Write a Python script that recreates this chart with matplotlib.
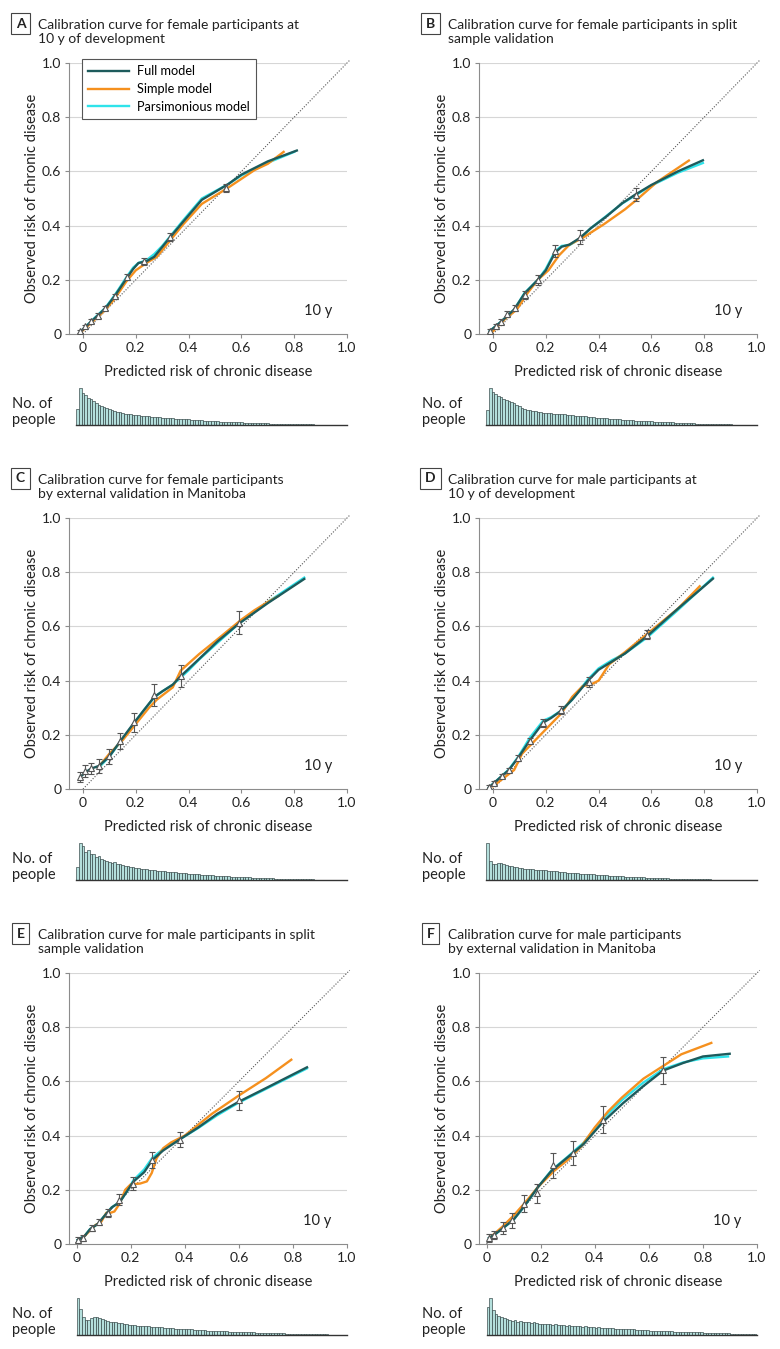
import matplotlib
matplotlib.use('Agg')
import matplotlib.pyplot as plt
import numpy as np

plt.rcParams['font.family'] = ['Lato', 'DejaVu Sans']

# ---- panel titles
titles = {
    'A': 'Calibration curve for female participants at\n10 y of development',
    'B': 'Calibration curve for female participants in split\nsample validation',
    'C': 'Calibration curve for female participants\nby external validation in Manitoba',
    'D': 'Calibration curve for male participants at\n10 y of development',
    'E': 'Calibration curve for male participants in split\nsample validation',
    'F': 'Calibration curve for male participants\nby external validation in Manitoba',
}

tick_values = [0, 0.2, 0.4, 0.6, 0.8, 1.0]
tick_labels = ['0', '0.2', '0.4', '0.6', '0.8', '1.0']

# ---- A: female, development
A_tri_x = [-0.01, 0.009, 0.03, 0.056, 0.085, 0.122, 0.167, 0.232, 0.328, 0.543]
A_tri_y = [0.01, 0.028, 0.047, 0.068, 0.096, 0.139, 0.21, 0.268, 0.357, 0.539]
A_tri_err = [0.006, 0.007, 0.007, 0.008, 0.009, 0.01, 0.012, 0.013, 0.015, 0.016]
A_full_x = [-0.01, 0.03, 0.085, 0.12, 0.165, 0.19, 0.21, 0.24, 0.27, 0.33, 0.38, 0.45, 0.55, 0.60, 0.70, 0.81]
A_full_y = [0.008, 0.045, 0.095, 0.14, 0.205, 0.24, 0.262, 0.268, 0.285, 0.357, 0.415, 0.495, 0.553, 0.588, 0.637, 0.677]
A_simple_x = [-0.01, 0.03, 0.085, 0.12, 0.165, 0.20, 0.24, 0.28, 0.33, 0.38, 0.45, 0.55, 0.65, 0.70, 0.76]
A_simple_y = [0.005, 0.04, 0.09, 0.13, 0.195, 0.235, 0.262, 0.285, 0.345, 0.405, 0.48, 0.54, 0.605, 0.628, 0.672]
A_pars_x = [-0.01, 0.03, 0.085, 0.12, 0.165, 0.19, 0.21, 0.24, 0.27, 0.30, 0.33, 0.38, 0.45, 0.55, 0.60, 0.70, 0.80]
A_pars_y = [0.008, 0.046, 0.097, 0.143, 0.21, 0.245, 0.262, 0.272, 0.295, 0.325, 0.36, 0.42, 0.5, 0.553, 0.585, 0.632, 0.672]
A_hist = [43, 100, 86, 81, 74, 70, 65, 60, 55, 51, 48, 45, 42, 40, 38, 36, 34, 33, 31, 30, 29,
          28, 27, 26, 25, 24, 23.5, 23, 22, 21.5, 21, 20.5, 20, 19.5, 19, 18.5, 18, 17.5, 17, 16.5, 16,
          15.5, 15, 14.5, 14, 13.5, 13, 12.5, 12, 11.5, 11, 10.5, 10, 9.5, 9, 8.8, 8.5, 8.2, 8, 7.8, 7.5,
          7.2, 7, 6.7, 6.4, 6.1, 5.8, 5.5, 5.2, 5, 4.7, 4.4, 4.2, 4, 3.8, 3.6, 3.4, 3.2, 3, 2.8, 2.6,
          2.4, 2.2, 2, 1.9, 1.8, 1.7, 1.6, 1.5, 1.4, 1.3, 1.2, 1.1, 1, 0.9, 0.8, 0.7, 0.6, 0.5, 0.5, 0.4, 0.4]

# ---- B: female, split sample
B_tri_x = [-0.013, 0.01, 0.029, 0.053, 0.082, 0.12, 0.17, 0.234, 0.331, 0.54]
B_tri_y = [0.012, 0.028, 0.046, 0.075, 0.096, 0.145, 0.2, 0.305, 0.358, 0.514]
B_tri_err = [0.008, 0.008, 0.01, 0.01, 0.012, 0.015, 0.018, 0.022, 0.025, 0.025]
B_full_x = [-0.013, 0.03, 0.08, 0.12, 0.17, 0.20, 0.235, 0.26, 0.29, 0.33, 0.37, 0.43, 0.49, 0.54, 0.60, 0.70, 0.795]
B_full_y = [0.01, 0.045, 0.09, 0.15, 0.2, 0.235, 0.3, 0.322, 0.33, 0.355, 0.39, 0.434, 0.483, 0.515, 0.55, 0.6, 0.641]
B_simple_x = [0.0, 0.05, 0.09, 0.13, 0.17, 0.21, 0.25, 0.29, 0.34, 0.42, 0.50, 0.55, 0.62, 0.742]
B_simple_y = [0.01, 0.06, 0.09, 0.15, 0.2, 0.235, 0.29, 0.33, 0.355, 0.405, 0.46, 0.5, 0.56, 0.64]
B_pars_x = [-0.013, 0.03, 0.08, 0.12, 0.17, 0.20, 0.235, 0.26, 0.29, 0.33, 0.37, 0.43, 0.49, 0.54, 0.60, 0.70, 0.795]
B_pars_y = [0.01, 0.045, 0.09, 0.152, 0.2, 0.24, 0.305, 0.325, 0.328, 0.352, 0.39, 0.436, 0.482, 0.512, 0.548, 0.595, 0.631]
B_hist = [41, 100, 90, 83, 79, 75, 71, 68, 65, 62, 59, 54, 50, 46, 43, 41, 40, 39, 37, 35, 34,
          33.5, 33, 32.5, 32, 31, 30.5, 30, 29, 28.5, 28, 27, 26, 25.5, 25, 24, 23.5, 23, 22, 21.5, 21,
          20, 19.5, 19, 18.5, 18, 17.5, 17, 16, 15.5, 15, 14.5, 14, 13.5, 13, 12.5, 12, 11.5, 11, 10.5, 10.5,
          10, 9.7, 9.4, 9, 8.7, 8.4, 8, 7.7, 7.4, 7, 6.7, 6.4, 6, 5.7, 5.4, 5, 4.7, 4.4, 4, 3.8,
          3.6, 3.3, 3, 2.8, 2.6, 2.4, 2.2, 2, 1.8, 1.6, 1.5, 1.4, 1.2, 1.1, 1, 0.9, 0.8, 0.7, 0.6, 0.5, 0.4]

# ---- C: female, Manitoba
C_tri_x = [-0.01, 0.009, 0.03, 0.059, 0.097, 0.139, 0.192, 0.268, 0.371, 0.591]
C_tri_y = [0.043, 0.065, 0.077, 0.084, 0.12, 0.176, 0.247, 0.346, 0.416, 0.613]
C_tri_err = [0.018, 0.022, 0.02, 0.025, 0.028, 0.03, 0.035, 0.04, 0.04, 0.042]
C_full_x = [-0.01, 0.01, 0.03, 0.06, 0.10, 0.14, 0.19, 0.23, 0.27, 0.30, 0.34, 0.37, 0.44, 0.51, 0.59, 0.70, 0.838]
C_full_y = [0.045, 0.062, 0.075, 0.085, 0.12, 0.175, 0.24, 0.29, 0.34, 0.36, 0.385, 0.416, 0.48, 0.545, 0.61, 0.686, 0.775]
C_simple_x = [0.066, 0.10, 0.15, 0.20, 0.25, 0.28, 0.34, 0.37, 0.44, 0.50, 0.55, 0.60, 0.65, 0.70, 0.74]
C_simple_y = [0.09, 0.13, 0.18, 0.24, 0.30, 0.33, 0.375, 0.437, 0.498, 0.545, 0.585, 0.625, 0.66, 0.69, 0.712]
C_pars_x = [0.066, 0.10, 0.14, 0.19, 0.23, 0.27, 0.30, 0.34, 0.40, 0.44, 0.51, 0.59, 0.70, 0.838]
C_pars_y = [0.085, 0.12, 0.172, 0.238, 0.29, 0.338, 0.36, 0.385, 0.438, 0.478, 0.54, 0.61, 0.69, 0.78]
C_hist = [36, 100, 93, 76, 81, 69, 71, 62, 64, 57, 54, 52, 50, 47, 48, 44, 42, 41, 39, 38, 36,
          34, 33, 32, 31, 30, 29, 28, 27, 26, 25, 24, 23.5, 23, 22, 21.5, 21, 20.5, 20, 19, 18.5,
          18, 17.5, 17, 16, 15.5, 15, 14.5, 14, 13.5, 13, 12.5, 12, 11.5, 11, 10.5, 10, 9.5, 9, 8.8, 8.5,
          8.2, 8, 7.5, 7, 6.8, 6.5, 6, 5.8, 5.5, 5.2, 5, 4.8, 4.5, 4.2, 4, 3.8, 3.5, 3.3, 3, 2.8,
          2.6, 2.4, 2.2, 2, 1.9, 1.8, 1.6, 1.5, 1.4, 1.2, 1.1, 1, 0.9, 0.8, 0.7, 0.6, 0.5, 0.5, 0.4, 0.4, 0.3]

# ---- D: male, development
D_tri_x = [-0.016, 0.003, 0.033, 0.061, 0.095, 0.139, 0.19, 0.259, 0.362, 0.585]
D_tri_y = [0.007, 0.022, 0.049, 0.071, 0.114, 0.178, 0.244, 0.29, 0.394, 0.57]
D_tri_err = [0.006, 0.008, 0.008, 0.008, 0.01, 0.012, 0.014, 0.015, 0.018, 0.018]
D_full_x = [-0.016, 0.03, 0.06, 0.095, 0.14, 0.19, 0.22, 0.26, 0.30, 0.36, 0.40, 0.45, 0.50, 0.585, 0.70, 0.833]
D_full_y = [0.005, 0.045, 0.07, 0.115, 0.18, 0.245, 0.262, 0.29, 0.33, 0.40, 0.44, 0.47, 0.50, 0.565, 0.665, 0.776]
D_simple_x = [0.0, 0.04, 0.08, 0.11, 0.14, 0.19, 0.22, 0.26, 0.30, 0.34, 0.37, 0.40, 0.44, 0.50, 0.60, 0.70, 0.783]
D_simple_y = [0.01, 0.04, 0.07, 0.13, 0.16, 0.21, 0.24, 0.28, 0.34, 0.38, 0.385, 0.40, 0.46, 0.505, 0.585, 0.665, 0.748]
D_pars_x = [-0.016, 0.03, 0.06, 0.095, 0.14, 0.19, 0.22, 0.26, 0.30, 0.36, 0.40, 0.45, 0.50, 0.585, 0.70, 0.833]
D_pars_y = [0.005, 0.045, 0.072, 0.118, 0.19, 0.252, 0.265, 0.29, 0.33, 0.405, 0.445, 0.475, 0.50, 0.56, 0.66, 0.78]
D_hist = [100, 51, 42, 44, 46, 45, 44, 41, 39, 37, 35, 34, 33, 32, 31, 30, 29.5, 29, 28, 27.5, 27,
          26.5, 26, 25, 24, 23.5, 23, 22, 21.5, 21, 20, 19.5, 19, 18.5, 18, 17.5, 17, 16.5, 16, 15.5, 15,
          14.5, 14, 13.5, 13, 12.5, 12, 11.5, 11, 10.5, 10, 9.5, 9, 8.5, 8.2, 8, 7.7, 7.4, 7, 6.8, 6.5,
          6.2, 6, 5.7, 5.4, 5.1, 4.8, 4.5, 4.2, 4, 3.8, 3.5, 3.3, 3, 2.8, 2.6, 2.4, 2.2, 2, 1.9, 1.8,
          1.7, 1.6, 1.5, 1.4, 1.3, 1.2, 1.1, 1, 0.9, 0.8, 0.7, 0.6, 0.6, 0.5, 0.5, 0.4, 0.4, 0.3, 0.3, 0.3, 0.2]

# ---- E: male, split sample
E_tri_x = [0.004, 0.025, 0.056, 0.084, 0.115, 0.157, 0.207, 0.279, 0.383, 0.60]
E_tri_y = [0.016, 0.022, 0.059, 0.081, 0.114, 0.164, 0.223, 0.311, 0.385, 0.53]
E_tri_err = [0.008, 0.01, 0.012, 0.012, 0.015, 0.02, 0.025, 0.03, 0.028, 0.035]
E_full_x = [0.004, 0.03, 0.05, 0.08, 0.10, 0.13, 0.16, 0.19, 0.21, 0.25, 0.28, 0.32, 0.38, 0.45, 0.52, 0.60, 0.70, 0.852]
E_full_y = [0.015, 0.03, 0.055, 0.075, 0.10, 0.135, 0.155, 0.2, 0.23, 0.265, 0.31, 0.345, 0.385, 0.43, 0.48, 0.525, 0.575, 0.652]
E_simple_x = [0.02, 0.05, 0.07, 0.09, 0.11, 0.125, 0.14, 0.16, 0.18, 0.20, 0.235, 0.26, 0.278, 0.296, 0.321,
              0.35, 0.40, 0.50, 0.60, 0.70, 0.794]
E_simple_y = [0.02, 0.05, 0.07, 0.08, 0.115, 0.115, 0.12, 0.15, 0.2, 0.22, 0.223, 0.231, 0.262, 0.317, 0.354,
              0.375, 0.40, 0.48, 0.548, 0.612, 0.68]
E_pars_x = [0.004, 0.03, 0.05, 0.08, 0.10, 0.13, 0.16, 0.19, 0.21, 0.25, 0.28, 0.32, 0.38, 0.45, 0.52, 0.60, 0.70, 0.852]
E_pars_y = [0.015, 0.03, 0.055, 0.075, 0.10, 0.135, 0.155, 0.2, 0.235, 0.275, 0.318, 0.35, 0.385, 0.428, 0.475, 0.522, 0.572, 0.648]
E_hist = [100, 70, 48, 40, 41, 46, 50, 48, 45, 42, 40, 38, 36, 35, 34, 33, 32, 31, 30, 28, 27,
          26, 25.5, 25, 24, 23.5, 23, 22.5, 22, 21.5, 21, 21, 20, 19.5, 19, 18, 17.5, 17, 16.5, 16, 15.5,
          15, 15, 14.5, 14, 13.5, 13, 12.5, 12, 11.5, 11, 11, 10.5, 10, 10, 9.5, 9, 8.8, 8.5, 8.2, 8,
          7.8, 7.5, 7.2, 7, 6.8, 6.5, 6.2, 6, 5.8, 5.5, 5.2, 5, 4.8, 4.5, 4.3, 4.1, 3.9, 3.7, 3.5, 3.3,
          3.1, 2.9, 2.7, 2.5, 2.3, 2.1, 2, 1.8, 1.7, 1.6, 1.5, 1.4, 1.3, 1.2, 1.1, 1, 0.9, 0.8, 0.7, 0.6]

# ---- F: male, Manitoba
F_tri_x = [0.009, 0.028, 0.059, 0.094, 0.14, 0.188, 0.246, 0.318, 0.429, 0.653]
F_tri_y = [0.022, 0.034, 0.059, 0.087, 0.149, 0.188, 0.29, 0.336, 0.459, 0.641]
F_tri_err = [0.015, 0.015, 0.022, 0.028, 0.03, 0.035, 0.045, 0.045, 0.05, 0.05]
F_full_x = [0.009, 0.03, 0.06, 0.10, 0.14, 0.19, 0.24, 0.30, 0.36, 0.43, 0.505, 0.579, 0.653, 0.727, 0.80, 0.899]
F_full_y = [0.022, 0.035, 0.058, 0.09, 0.14, 0.21, 0.27, 0.32, 0.37, 0.45, 0.52, 0.582, 0.64, 0.668, 0.692, 0.702]
F_simple_x = [0.02, 0.06, 0.10, 0.14, 0.19, 0.25, 0.30, 0.35, 0.40, 0.45, 0.50, 0.58, 0.65, 0.72, 0.831]
F_simple_y = [0.03, 0.065, 0.105, 0.15, 0.21, 0.27, 0.31, 0.36, 0.43, 0.49, 0.54, 0.61, 0.655, 0.70, 0.742]
F_pars_x = [0.009, 0.03, 0.06, 0.10, 0.14, 0.19, 0.24, 0.30, 0.36, 0.43, 0.505, 0.579, 0.653, 0.727, 0.80, 0.893]
F_pars_y = [0.022, 0.035, 0.058, 0.09, 0.14, 0.21, 0.272, 0.322, 0.375, 0.462, 0.535, 0.595, 0.645, 0.67, 0.685, 0.692]
F_hist = [76, 100, 67, 57, 52, 50, 45, 43, 41, 38, 40, 36, 37, 35, 34, 36, 33, 34, 32, 31, 30,
          31, 29, 30, 28, 29, 27, 27, 26, 25, 26, 25, 24, 24, 23, 22, 23, 22, 21, 21, 20,
          21, 20, 19, 19, 18, 18, 17, 17, 16, 16, 15.5, 15, 16, 15, 14, 14, 13, 13, 12.5, 12,
          12, 11.5, 11, 11.5, 10.5, 10, 10, 9.5, 9, 9, 8.5, 8.5, 8, 8, 7.5, 7.5, 7, 7, 6.8, 6.5,
          6.2, 6, 5.8, 5.5, 5.2, 5, 4.8, 4.5, 4.2, 4, 3.8, 3.5, 3.2, 3, 2.8, 2.5, 2.2, 2, 1.8, 1.5]

panels = {
    'A': (A_tri_x, A_tri_y, A_tri_err, A_full_x, A_full_y, A_simple_x, A_simple_y, A_pars_x, A_pars_y, A_hist),
    'B': (B_tri_x, B_tri_y, B_tri_err, B_full_x, B_full_y, B_simple_x, B_simple_y, B_pars_x, B_pars_y, B_hist),
    'C': (C_tri_x, C_tri_y, C_tri_err, C_full_x, C_full_y, C_simple_x, C_simple_y, C_pars_x, C_pars_y, C_hist),
    'D': (D_tri_x, D_tri_y, D_tri_err, D_full_x, D_full_y, D_simple_x, D_simple_y, D_pars_x, D_pars_y, D_hist),
    'E': (E_tri_x, E_tri_y, E_tri_err, E_full_x, E_full_y, E_simple_x, E_simple_y, E_pars_x, E_pars_y, E_hist),
    'F': (F_tri_x, F_tri_y, F_tri_err, F_full_x, F_full_y, F_simple_x, F_simple_y, F_pars_x, F_pars_y, F_hist),
}
hist_start = {'A': -0.025, 'B': -0.025, 'C': -0.025, 'D': -0.025, 'E': 0.0, 'F': 0.0}
x_left = {'A': -0.053, 'B': -0.053, 'C': -0.053, 'D': -0.053, 'E': -0.028, 'F': -0.028}
bin_width = 0.01

full_color = '#1d5b5c'
simple_color = '#f5901e'
pars_color = '#2fe3ea'
grey = '#8c8c8c'

W, H = 780, 1349
fig = plt.figure(figsize=(W / 100, H / 100), dpi=100)


def px_rect(left, top, right, bottom):
    """pixel box -> figure fraction rect"""
    return [left / W, 1 - bottom / H, (right - left) / W, (bottom - top) / H]


for i, name in enumerate(['A', 'B', 'C', 'D', 'E', 'F']):
    col = i % 2
    row = i // 2
    dx = 410 * col
    dy = 455 * row
    tx, ty, terr, fx, fy, sx, sy, px, py, hist = panels[name]

    # panel letter and title
    fig.text((20.5 + dx) / W, 1 - (23.5 + dy) / H, name, ha='center', va='center', fontsize=10,
             fontweight='bold', color='#222',
             bbox=dict(boxstyle='square,pad=0.35', fc='white', ec='#444', lw=0.8))
    fig.text((38 + dx) / W, 1 - (19 + dy) / H, titles[name], ha='left', va='top', fontsize=10,
             color='#222', linespacing=1.2)

    # calibration axes
    ax = fig.add_axes(px_rect(69 + dx, 63 + dy, 347 + dx, 334 + dy))
    ax.set_xlim(x_left[name], 1.0)
    ax.set_ylim(0, 1.0)
    ax.set_xticks(tick_values)
    ax.set_xticklabels(tick_labels)
    ax.set_yticks(tick_values)
    ax.set_yticklabels(tick_labels)
    ax.tick_params(length=3, width=0.8, color=grey, labelsize=10, labelcolor='#222', pad=2.5)
    for side in ['top', 'right']:
        ax.spines[side].set_visible(False)
    for side in ['left', 'bottom']:
        ax.spines[side].set_color(grey)
        ax.spines[side].set_linewidth(0.8)
    for yv in tick_values[1:]:
        ax.axhline(yv, color='#d6d6d6', lw=0.8, zorder=0)

    ax.plot([0, 1.01], [0, 1.01], color='#555555', lw=0.8, ls=(0, (1, 1.5)), clip_on=False, zorder=1)

    ax.plot(px, py, color=pars_color, lw=1.7, solid_joinstyle='round', zorder=2, label='Parsimonious model')
    ax.plot(sx, sy, color=simple_color, lw=1.7, solid_joinstyle='round', zorder=3, label='Simple model')
    ax.plot(fx, fy, color=full_color, lw=1.7, solid_joinstyle='round', zorder=4, label='Full model')

    ax.errorbar(tx, ty, yerr=terr, fmt='none', ecolor='#555555', elinewidth=0.8, capsize=2,
                capthick=0.8, zorder=5)
    ax.plot(tx, ty, ls='none', marker='^', ms=5, mfc='white', mec='#555555', mew=0.8, zorder=6)

    ax.text(0.89, 0.085, '10 y', ha='center', va='center', fontsize=10.5, color='#222')
    ax.set_ylabel('Observed risk of chronic disease', fontsize=10.5, color='#222', labelpad=2)
    ax.set_xlabel('Predicted risk of chronic disease', fontsize=10.5, color='#222', labelpad=8)

    if name == 'A':
        handles, labels = ax.get_legend_handles_labels()
        order = [2, 1, 0]
        leg = ax.legend([handles[k] for k in order], [labels[k] for k in order],
                        loc='upper left', bbox_to_anchor=(0.047, 1.015), borderaxespad=0,
                        fontsize=9.2, fancybox=False, framealpha=1, edgecolor='#555555',
                        handlelength=3.2, borderpad=0.5, labelspacing=0.45, handletextpad=0.6)
        leg.get_frame().set_linewidth(0.8)

    # histogram below
    hax = fig.add_axes(px_rect(69 + dx, 388 + dy, 347 + dx, 425 + dy))
    edges = hist_start[name] + bin_width * np.arange(len(hist))
    hax.bar(edges, hist, width=bin_width, align='edge', color='#b4dfdc', edgecolor='#2e3f3f',
            linewidth=0.45)
    hax.set_xlim(x_left[name], 1.0)
    hax.set_ylim(0, max(hist))
    hax.set_xticks([])
    hax.set_yticks([])
    for side in ['top', 'right', 'left']:
        hax.spines[side].set_visible(False)
    hax.spines['bottom'].set_bounds(hist_start[name], 1.0)
    hax.spines['bottom'].set_color('#333333')
    hax.spines['bottom'].set_linewidth(1.0)
    fig.text((12 + dx) / W, 1 - (412 + dy) / H, 'No. of\npeople', ha='left', va='center',
             fontsize=10.5, color='#222', linespacing=1.2)

fig.savefig('out.png', dpi=100)
